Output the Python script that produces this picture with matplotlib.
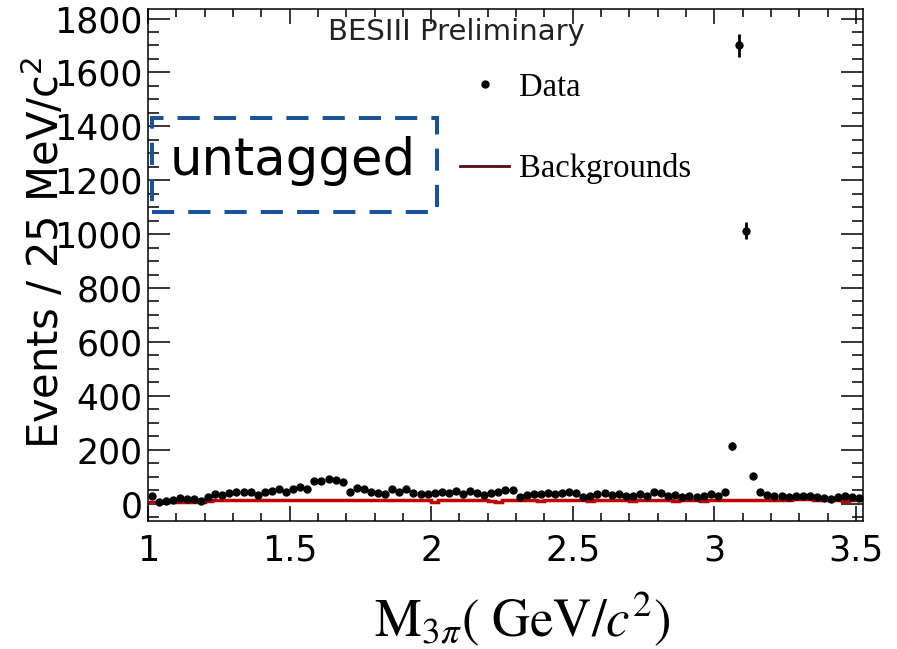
import matplotlib.pyplot as plt
import numpy as np
from matplotlib.patches import Rectangle
from matplotlib.lines import Line2D
from matplotlib.ticker import MultipleLocator, FormatStrFormatter

# 25 MeV bins from 1.0 to 3.525 GeV
bin_start = 1.0
bin_width = 0.025

data_counts = [
    28, 5, 10, 12, 22, 18, 17, 8, 26, 35,
    33, 40, 42, 42, 45, 32, 42, 46, 55, 44,
    54, 62, 55, 85, 84, 93, 88, 80, 42, 57,
    54, 42, 38, 37, 53, 42, 54, 38, 37, 35,
    40, 42, 38, 48, 34, 47, 40, 31, 40, 44,
    50, 52, 24, 32, 36, 36, 39, 35, 39, 44,
    41, 23, 29, 36, 38, 32, 35, 28, 30, 37,
    30, 42, 38, 29, 31, 25, 28, 24, 30, 36,
    30, 42, 215, 1700, 1012, 104, 42, 33, 30, 28,
    25, 27, 30, 28, 24, 22, 17, 25, 27, 24, 22,
]

bkg_counts = [
    7, 7, 7, 7, 7, 7, 7, 7, 8, 13,
    13, 13, 13, 13, 13, 13, 14, 13, 13, 13,
    13, 13, 13, 13, 13, 13, 13, 13, 13, 13,
    13, 13, 13, 13, 13, 13, 12, 12, 12, 12,
    6, 12, 13, 14, 12, 13, 14, 13, 10, 6,
    13, 14, 13, 12, 13, 8, 13, 14, 13, 13,
    12, 13, 8, 13, 14, 13, 12, 13, 8, 13,
    13, 14, 13, 12, 8, 13, 13, 12, 8, 13,
    13, 13, 13, 13, 13, 13, 13, 14, 13, 13,
    14, 18, 17, 16, 14, 15, 14, 13, 8, 14, 14,
]

data_counts = np.array(data_counts, dtype=float)
bkg_counts = np.array(bkg_counts, dtype=float)
edges = bin_start + bin_width * np.arange(len(data_counts) + 1)
centers = edges[:-1] + bin_width / 2
errors = np.sqrt(data_counts)

fig = plt.figure(figsize=(8.97, 6.49), dpi=100)
ax = fig.add_axes([0.165, 0.197, 0.797, 0.789])

ax.stairs(bkg_counts, edges, baseline=None, color='#c00000', lw=2.5, zorder=2)
ax.errorbar(centers, data_counts, yerr=errors, fmt='o', color='black',
            ms=5, elinewidth=2, capsize=0, zorder=3)

ax.set_xlim(1.0, 3.525)
ax.set_ylim(-65, 1835)

ax.xaxis.set_major_locator(MultipleLocator(0.5))
ax.xaxis.set_minor_locator(MultipleLocator(0.1))
ax.xaxis.set_major_formatter(FormatStrFormatter('%g'))
ax.yaxis.set_major_locator(MultipleLocator(200))
ax.yaxis.set_minor_locator(MultipleLocator(50))

ax.tick_params(which='both', direction='in', top=True, right=True,
               width=1.1, labelsize=25)
ax.tick_params(axis='x', which='major', length=11, pad=9)
ax.tick_params(axis='x', which='minor', length=5.5)
ax.tick_params(axis='y', which='major', length=16, pad=4)
ax.tick_params(axis='y', which='minor', length=8)
for s in ax.spines.values():
    s.set_linewidth(1.1)

ax.set_xlabel(r"$\mathrm{M}_{3\pi}(\ \mathrm{GeV}/c^{2})$", fontsize=38,
              math_fontfamily='stix', va='center')
ax.xaxis.set_label_coords(0.523, -0.19)
ax.set_ylabel(r"Events / 25 MeV/c$^{2}$", fontsize=30,
              math_fontfamily='dejavusans', va='center')
ax.yaxis.set_label_coords(-0.145, 0.525)

ax.text(0.431, 0.955, "BESIII Preliminary", transform=ax.transAxes,
        fontsize=21, color='#222222', ha='center', va='center')

# dashed "untagged" box
ax.add_patch(Rectangle((0.0056, 0.6035), 0.398, 0.1835, transform=ax.transAxes,
                       fill=False, ec='#1a5496', lw=2.9, ls=(0, (5.5, 3.5)),
                       clip_on=False, zorder=4))
ax.text(0.203, 0.703, "untagged", transform=ax.transAxes, fontsize=37,
        ha='center', va='center', zorder=5)

handles = [Line2D([], [], marker='o', ls='none', color='black', ms=5),
           Line2D([], [], color='#5a0a0a', lw=2)]
ax.legend(handles, ['Data', 'Backgrounds'], loc='upper left',
          bbox_to_anchor=(0.437, 0.877), frameon=False,
          prop={'family': 'Liberation Serif', 'size': 23.5},
          handlelength=1.5, handletextpad=0.3, labelspacing=1.55,
          borderpad=0, borderaxespad=0)

plt.savefig('out.png', dpi=100)
